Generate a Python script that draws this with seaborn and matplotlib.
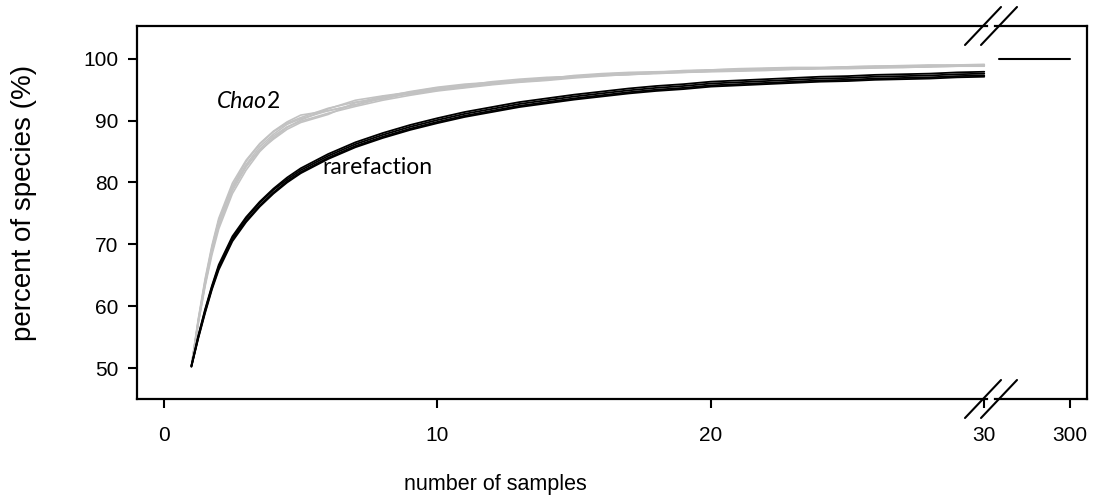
import numpy as np
import pandas as pd
import seaborn as sns
from matplotlib import pyplot as plt
from matplotlib.lines import Line2D

# sample counts at which the curves were read (denser at the steep start)
samples = [1, 1.25, 1.5, 1.75, 2, 2.5, 3, 3.5, 4, 4.5] + list(range(5, 31))

# Chao2 estimates, one list per replicate
chao_runs = [
    [50.3, 57.2, 63.2, 68.3, 72.5, 78.2, 82.0, 85.0, 87.2, 88.9, 90.1, 91.9, 93.3, 94.0, 94.6, 95.3, 95.7, 96.0,
     96.5, 96.9, 97.2, 97.4, 97.5, 97.7, 97.8, 98.0, 98.1, 98.2, 98.3, 98.4, 98.5, 98.6, 98.6, 98.7, 98.8, 98.9],
    [50.3, 57.9, 64.4, 69.8, 74.2, 79.9, 83.6, 86.3, 88.3, 89.8, 90.9, 91.6, 92.6, 93.8, 94.7, 95.4, 95.9, 96.2,
     96.4, 96.8, 97.3, 97.6, 97.8, 97.9, 98.0, 98.2, 98.4, 98.5, 98.6, 98.6, 98.7, 98.8, 98.9, 99.0, 99.0, 99.1],
    [50.3, 57.4, 63.6, 68.8, 73.0, 78.7, 82.5, 85.4, 87.5, 89.0, 89.9, 91.2, 92.3, 93.3, 94.1, 94.8, 95.3, 95.8,
     96.2, 96.5, 96.9, 97.2, 97.5, 97.6, 97.8, 97.9, 98.0, 98.1, 98.3, 98.4, 98.4, 98.5, 98.6, 98.7, 98.8, 98.8],
    [50.3, 57.7, 64.1, 69.5, 73.9, 79.3, 82.7, 85.2, 87.0, 88.6, 89.7, 91.0, 92.9, 93.9, 94.3, 94.9, 95.7, 96.3,
     96.7, 97.0, 97.1, 97.3, 97.6, 97.8, 98.1, 98.2, 98.3, 98.3, 98.4, 98.5, 98.7, 98.8, 98.8, 98.9, 98.9, 99.0],
    [50.3, 57.3, 63.5, 68.9, 73.4, 79.4, 83.4, 86.2, 88.2, 89.6, 90.5, 92.0, 93.0, 93.5, 94.4, 95.1, 95.5, 95.9,
     96.4, 96.7, 97.0, 97.3, 97.4, 97.7, 97.9, 98.0, 98.1, 98.3, 98.4, 98.5, 98.5, 98.6, 98.7, 98.8, 98.9, 98.9],
    [50.3, 57.6, 63.9, 69.2, 73.6, 79.0, 82.9, 85.8, 87.8, 89.4, 90.3, 91.6, 92.5, 93.6, 94.5, 95.0, 95.4, 96.1,
     96.3, 96.6, 97.1, 97.5, 97.7, 97.8, 97.9, 98.1, 98.2, 98.4, 98.5, 98.5, 98.6, 98.7, 98.8, 98.8, 98.9, 99.0],
]

# rarefaction curves, one list per replicate
rare_runs = [
    [50.4, 55.2, 59.5, 63.3, 66.7, 71.3, 74.4, 76.9, 79.0, 80.8, 82.3, 84.6, 86.5, 88.0, 89.3, 90.4, 91.4, 92.2,
     93.0, 93.6, 94.2, 94.7, 95.2, 95.6, 95.9, 96.3, 96.5, 96.7, 96.9, 97.1, 97.2, 97.4, 97.5, 97.6, 97.8, 97.9],
    [50.3, 55.1, 59.3, 63.1, 66.4, 71.0, 74.2, 76.7, 78.8, 80.5, 82.0, 84.3, 86.2, 87.7, 89.0, 90.1, 91.1, 91.9,
     92.7, 93.3, 93.9, 94.4, 94.9, 95.3, 95.6, 96.0, 96.2, 96.4, 96.6, 96.8, 96.9, 97.1, 97.2, 97.3, 97.5, 97.6],
    [50.3, 54.9, 59.1, 62.9, 66.2, 70.8, 73.8, 76.3, 78.4, 80.2, 81.7, 84.0, 85.9, 87.4, 88.7, 89.8, 90.8, 91.6,
     92.4, 93.0, 93.6, 94.1, 94.6, 95.0, 95.3, 95.7, 95.9, 96.1, 96.3, 96.5, 96.6, 96.8, 96.9, 97.0, 97.2, 97.3],
    [50.2, 54.8, 58.9, 62.7, 65.9, 70.5, 73.6, 76.1, 78.2, 80.0, 81.5, 83.8, 85.7, 87.2, 88.5, 89.6, 90.6, 91.4,
     92.2, 92.8, 93.4, 93.9, 94.4, 94.8, 95.1, 95.5, 95.7, 95.9, 96.1, 96.3, 96.4, 96.6, 96.7, 96.8, 97.0, 97.1],
]

# full inventory (300 samples)
full_x = [270, 300]
full_y = [100, 100]

y_ticks = [50, 60, 70, 80, 90, 100]
x_ticks_left = [0, 10, 20, 30]
x_ticks_right = [300]


def to_long(runs):
    rows = []
    for i, run in enumerate(runs):
        assert len(run) == len(samples)
        for s, v in zip(samples, run):
            rows.append({"run": i, "samples": s, "percent": v})
    return pd.DataFrame(rows)


sns.set_style("ticks")
plt.rcParams['font.family'] = ['Liberation Sans', 'DejaVu Sans']
for key in ("text.color", "axes.labelcolor", "xtick.color", "ytick.color", "axes.edgecolor"):
    plt.rcParams[key] = "black"

fig = plt.figure(figsize=(10.98, 5.01), dpi=100)
W, H = 1098, 501
ax = fig.add_axes([137 / W, 1 - 399 / H, (987 - 137) / W, 373 / H])
ax2 = fig.add_axes([995 / W, 1 - 399 / H, (1087 - 995) / W, 373 / H], sharey=ax)

sns.lineplot(data=to_long(chao_runs), x="samples", y="percent", units="run",
             estimator=None, color="#c2c2c2", lw=1.2, ax=ax)
sns.lineplot(data=to_long(rare_runs), x="samples", y="percent", units="run",
             estimator=None, color="black", lw=1.3, ax=ax)
sns.lineplot(x=full_x, y=full_y, color="black", lw=1.5, ax=ax2)

ax.set_xlim(-0.99, 30.1)
ax.set_ylim(45.0, 105.3)
ax2.set_xlim(268.3, 307.2)

for a in (ax, ax2):
    for sp in a.spines.values():
        sp.set_linewidth(1.6)
    a.tick_params(direction="out", length=6.5, width=1.5, labelsize=15)
    a.tick_params(axis="x", pad=13)
    a.tick_params(axis="y", pad=7)
ax.spines["right"].set_visible(False)
ax2.spines["left"].set_visible(False)
ax2.tick_params(axis="y", left=False, labelleft=False)

ax.set_xticks(x_ticks_left)
ax.set_yticks(y_ticks)
ax2.set_xticks(x_ticks_right)

ax.set_xlabel("number of samples", fontsize=15.5)
ax.set_ylabel("percent of species (%)", fontsize=20)
ax2.set_xlabel("")
ax2.set_ylabel("")
ax.xaxis.set_label_coords((495 - 137) / 850, (399 - 474) / 373)
ax.yaxis.set_label_coords((37 - 137) / 850, (399 - 203) / 373)

ax.text(3.75, 93.1, "Chao", fontstyle="italic", fontsize=16.5, family="Lato",
        ha="right", va="center")
ax.text(3.75, 93.1, "2", fontsize=16.5, family="Lato", ha="left", va="center")
ax.text(7.8, 82.4, "rarefaction", fontsize=16.5, family="Lato", ha="center", va="center")

# axis break marks
for yc in (26, 399):
    for xc in (983, 999):
        fig.add_artist(Line2D([(xc - 18) / W, (xc + 18) / W],
                              [1 - (yc + 19) / H, 1 - (yc - 19) / H],
                              color="black", lw=1.5))

fig.savefig("out.png", dpi=100)
